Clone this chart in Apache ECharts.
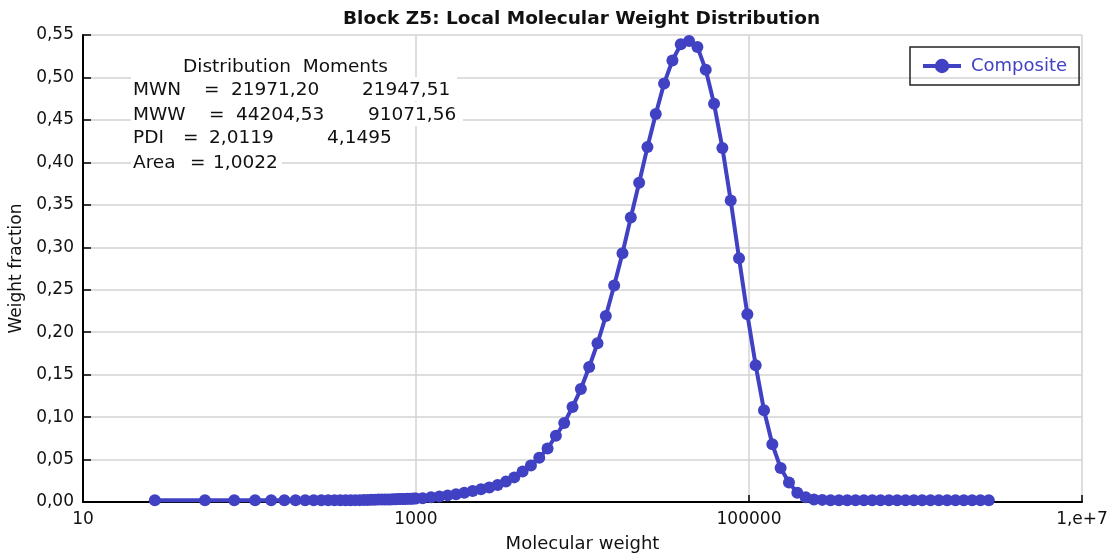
<!DOCTYPE html>
<html>
<head>
<meta charset="utf-8">
<script src="https://cdn.jsdelivr.net/npm/echarts@6/dist/echarts.min.js"></script>
<style>
html, body { margin: 0; padding: 0; background: #fff; }
#chart { width: 1118px; height: 558px; }
</style>
</head>
<body>
<div id="chart"></div>
<script>
// molecular weight of every point (g/mol)
var molWeight = [
    27, 54, 81, 108, 135, 162, 189, 216, 243, 270,
    297, 324, 351, 378, 405, 432, 459, 486, 513, 540,
    567, 594, 621, 648, 675, 702, 729, 756, 783, 810,
    837, 864, 891, 918, 945, 972, 999,
    1097, 1231, 1381, 1550, 1739, 1951, 2189, 2456, 2756, 3092,
    3469, 3892, 4367, 4900, 5498, 6169, 6921, 7766, 8713, 9776,
    10969, 12307, 13809, 15494, 17384, 19505, 21885, 24555, 27551, 30913,
    34685, 38917, 43665, 48993, 54971, 61678, 69204, 77648, 87122, 97753,
    109680, 123063, 138079, 154927, 173830, 195040, 218838, 245540, 275500, 309116,
    346833, 389152, 436636, 489912, 549690, 616760, 692015, 776450, 871190, 977490,
    1096760, 1230580, 1380740, 1549200, 1738230, 1950330, 2188300, 2455300, 2754900
];
// weight fraction of every point
var weightFraction = [
    0.002, 0.002, 0.002, 0.002, 0.002, 0.002, 0.002, 0.002, 0.002, 0.002,
    0.002, 0.002, 0.002, 0.002, 0.002, 0.0022, 0.0022, 0.0024, 0.0024, 0.0026,
    0.0026, 0.0028, 0.0028, 0.003, 0.003, 0.003, 0.0032, 0.0032, 0.0034, 0.0034,
    0.0035, 0.0036, 0.0037, 0.0038, 0.0039, 0.004, 0.004,
    0.0045, 0.0055, 0.0065, 0.0078, 0.009, 0.011, 0.013, 0.015, 0.017, 0.020,
    0.024, 0.029, 0.036, 0.043, 0.052, 0.063, 0.078, 0.093, 0.112, 0.133,
    0.159, 0.187, 0.219, 0.255, 0.293, 0.335, 0.376, 0.418, 0.457, 0.493,
    0.520, 0.539, 0.543, 0.536, 0.509, 0.469, 0.417, 0.355, 0.287, 0.221,
    0.161, 0.108, 0.068, 0.040, 0.023, 0.011, 0.0055, 0.003, 0.0025, 0.002,
    0.002, 0.002, 0.002, 0.002, 0.002, 0.002, 0.002, 0.002, 0.002, 0.002,
    0.002, 0.002, 0.002, 0.002, 0.002, 0.002, 0.002, 0.002, 0.002
];
var seriesName = 'Composite';
var xTickLabels = { 10: '10', 1000: '1000', 100000: '100000', 10000000: '1,e+7' };
// text box "Distribution Moments": [text, left, centre y]
var momentTexts = [
    ['Distribution  Moments', 183, 66],
    ['MWN', 133, 89], ['=', 204, 89], ['21971,20', 231, 89], ['21947,51', 362, 89],
    ['MWW', 133, 114], ['=', 209, 114], ['44204,53', 236, 114], ['91071,56', 368, 114],
    ['PDI', 133, 137], ['=', 183, 137], ['2,0119', 209, 137], ['4,1495', 327, 137],
    ['Area', 133, 162], ['=', 190, 162], ['1,0022', 213, 162]
];

var blue = '#4141c3';
var font = '"DejaVu Sans", Verdana, sans-serif';

var points = molWeight.map(function(m, i) {
    return [m, weightFraction[i]];
});

var graphics = [
    { type: 'rect', left: 181, top: 55, shape: { width: 224, height: 22 }, style: { fill: '#fff' }, z: 10 },
    { type: 'rect', left: 131, top: 77, shape: { width: 326, height: 24 }, style: { fill: '#fff' }, z: 10 },
    { type: 'rect', left: 131, top: 102, shape: { width: 332, height: 24 }, style: { fill: '#fff' }, z: 10 },
    { type: 'rect', left: 131, top: 126, shape: { width: 266, height: 23 }, style: { fill: '#fff' }, z: 10 },
    { type: 'rect', left: 131, top: 150, shape: { width: 151, height: 24 }, style: { fill: '#fff' }, z: 10 }
];
momentTexts.forEach(function(t) {
    graphics.push({
        type: 'text',
        left: t[1],
        top: t[2] - 8,
        z: 11,
        style: { text: t[0], fill: '#111', font: '18.5px ' + font }
    });
});

var myChart = echarts.init(document.getElementById('chart'));
var option = {
    backgroundColor: '#fff',
    animation: false,
    title: {
        text: 'Block Z5: Local Molecular Weight Distribution',
        left: 338,
        top: 5,
        textStyle: { fontFamily: font, fontSize: 18.5, fontWeight: 'bold', color: '#111' }
    },
    legend: {
        data: [seriesName],
        left: 910,
        top: 47,
        padding: [10, 12, 10, 11],
        itemWidth: 38,
        itemHeight: 18,
        borderColor: '#222',
        borderWidth: 1.5,
        borderRadius: 0,
        lineStyle: { width: 4 },
        textStyle: { fontFamily: font, fontSize: 18, color: blue, padding: [0, 0, 0, 5] }
    },
    grid: {
        left: 83,
        right: 36,
        top: 35,
        bottom: 56,
        outerBoundsMode: 'none'
    },
    xAxis: {
        type: 'log',
        logBase: 10,
        min: 10,
        max: 10000000,
        interval: 2,
        name: 'Molecular weight',
        nameLocation: 'middle',
        nameGap: 33,
        nameTextStyle: { fontFamily: font, fontSize: 18, color: '#111' },
        axisLine: { lineStyle: { color: '#000', width: 2 } },
        axisTick: { inside: true, length: 7, lineStyle: { color: '#000', width: 1.5 } },
        axisLabel: {
            fontFamily: font, fontSize: 17, color: '#111', margin: 9,
            formatter: function(v) {
                var r = Math.round(v);
                return xTickLabels[r] !== undefined ? xTickLabels[r] : '';
            }
        },
        splitLine: { show: true, lineStyle: { color: '#d3d3d3', width: 1.5 } },
        minorTick: { show: false }
    },
    yAxis: {
        type: 'value',
        min: 0,
        max: 0.55,
        interval: 0.05,
        name: 'Weight fraction',
        nameLocation: 'middle',
        nameGap: 55,
        nameTextStyle: { fontFamily: font, fontSize: 17, color: '#111' },
        axisLine: { show: true, lineStyle: { color: '#000', width: 2 } },
        axisTick: { show: true, inside: true, length: 8, lineStyle: { color: '#000', width: 1.5 } },
        axisLabel: {
            fontFamily: font, fontSize: 17, color: '#111', margin: 9,
            formatter: function(v) {
                return v.toFixed(2).replace('.', ',');
            }
        },
        splitLine: { show: true, lineStyle: { color: '#d3d3d3', width: 1.5 } }
    },
    graphic: graphics,
    series: [{
        name: seriesName,
        type: 'line',
        data: points,
        symbol: 'circle',
        symbolSize: 12,
        showAllSymbol: true,
        color: blue,
        lineStyle: { color: blue, width: 4 },
        itemStyle: { color: blue }
    }]
};
myChart.setOption(option);
window.onresize = function() {
    myChart.resize();
};
</script>
</body>
</html>
